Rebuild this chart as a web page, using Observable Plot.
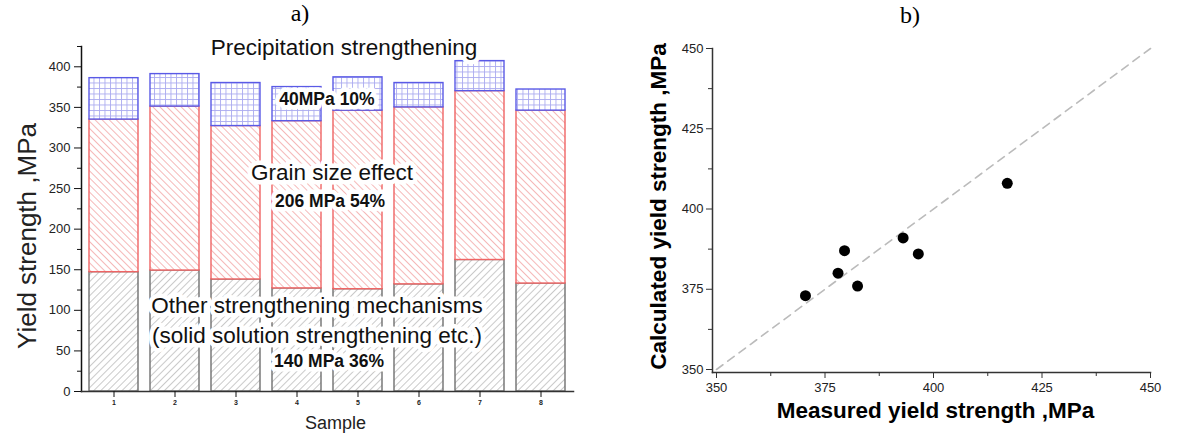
<!DOCTYPE html>
<html><head><meta charset="utf-8">
<script src="https://cdn.jsdelivr.net/npm/d3@7"></script>
<script src="https://cdn.jsdelivr.net/npm/@observablehq/plot@0.6"></script>
<style>
body{margin:0;background:#fff;}
#wrap{position:relative;width:1187px;height:434px;overflow:hidden;font-family:"Liberation Sans",Arial,sans-serif;}
.panel{position:absolute;top:0;}
.tag{position:absolute;font-family:"Liberation Serif","Times New Roman",serif;font-size:24px;line-height:24px;color:#000;transform:translateX(-50%);white-space:nowrap;}
</style></head>
<body>
<div id="wrap">
  <div id="left" class="panel" style="left:0"></div>
  <div id="right" class="panel" style="left:600px"></div>
  <div class="tag" style="left:300px;top:1px">a)</div>
  <div class="tag" style="left:910px;top:3px">b)</div>
</div>
<script>
// ---- data: panel a) stacked contributions ----
const samples = ["1", "2", "3", "4", "5", "6", "7", "8"];
const otherMech = [147, 149, 138, 127, 126, 132, 162, 133];
const grainSize = [188, 202, 189, 206, 220, 218, 208, 213];
const precipitation = [51, 40, 53, 42, 41, 30, 37, 26];
const seriesNames = ["Other strengthening mechanisms", "Grain size effect", "Precipitation strengthening"];
const yTicksA = [0, 50, 100, 150, 200, 250, 300, 350, 400];
const yMinorA = [25, 75, 125, 175, 225, 275, 325, 375, 425];
const labelsA = ["Precipitation strengthening", "40MPa 10%", "Grain size effect", "206 MPa 54%",
  "Other strengthening mechanisms", "(solid solution strengthening etc.)", "140 MPa 36%"];

// ---- data: panel b) measured vs calculated ----
const measured = [370.5, 378, 379.5, 382.5, 393, 396.5, 417];
const calculated = [373, 380, 387, 376, 391, 386, 408];
const ticksB = [350, 375, 400, 425, 450];
const minorB = [362.5, 387.5, 412.5, 437.5];
const identityLine = [350, 450];

// build stacked rows
const valuesBySeries = [otherMech, grainSize, precipitation];
const rows = [];
samples.forEach((s, i) => {
  let base = 0;
  seriesNames.forEach((name, k) => {
    const v = valuesBySeries[k][i];
    rows.push({sample: s, series: name, y1: base, y2: base + v});
    base += v;
  });
});

function patternDefs() {
  const d = d3.create("svg:defs");
  const g = d.append("pattern").attr("id", "hatchGray").attr("patternUnits", "userSpaceOnUse")
    .attr("width", 5).attr("height", 5).attr("patternTransform", "rotate(45)");
  g.append("rect").attr("width", 5).attr("height", 5).attr("fill", "#fff");
  g.append("line").attr("x1", 2.5).attr("x2", 2.5).attr("y1", 0).attr("y2", 5).attr("stroke", "#c4c4c4").attr("stroke-width", 0.9);
  const r = d.append("pattern").attr("id", "hatchRed").attr("patternUnits", "userSpaceOnUse")
    .attr("width", 5).attr("height", 5).attr("patternTransform", "rotate(-45)");
  r.append("rect").attr("width", 5).attr("height", 5).attr("fill", "#fff");
  r.append("line").attr("x1", 2.5).attr("x2", 2.5).attr("y1", 0).attr("y2", 5).attr("stroke", "#f4b0b0").attr("stroke-width", 0.9);
  const b = d.append("pattern").attr("id", "gridBlue").attr("patternUnits", "userSpaceOnUse")
    .attr("width", 5.5).attr("height", 5.5);
  b.append("rect").attr("width", 5.5).attr("height", 5.5).attr("fill", "#fff");
  b.append("path").attr("d", "M0,0.5H5.5M0.5,0V5.5").attr("stroke", "#aaaaf0").attr("stroke-width", 0.9).attr("fill", "none");
  return d.node();
}

const fills = ["url(#hatchGray)", "url(#hatchRed)", "url(#gridBlue)"];
const strokes = ["#707070", "#ef6464", "#5a5ae6"];

const textBase = {fill: "#111", stroke: "#fff", strokeWidth: 9, strokeLinejoin: "round", paintOrder: "stroke", fontFamily: "Liberation Sans, Arial, sans-serif"};

const left = Plot.plot({
  width: 600, height: 434,
  marginLeft: 81, marginRight: 27, marginTop: 46, marginBottom: 43,
  style: {fontFamily: "Liberation Sans, Arial, sans-serif", fontSize: "13px", color: "#222", background: "transparent", overflow: "visible"},
  x: {type: "band", domain: samples, paddingInner: 0.2, paddingOuter: 0.1, label: null},
  y: {domain: [0, 425], label: null},
  marks: [
    patternDefs,
    ...seriesNames.map((name, k) => Plot.barY(rows.filter(d => d.series === name), {
      x: "sample", y1: "y1", y2: "y2", fill: fills[k], stroke: strokes[k], strokeWidth: 1.4
    })),
    Plot.frame({anchor: "left", stroke: "#111", strokeWidth: 1.5}),
    Plot.frame({anchor: "bottom", stroke: "#333", strokeWidth: 1.5}),
    Plot.axisY(yTicksA, {tickSize: 7, tickPadding: 4, fontSize: 13, label: null, stroke: "#111"}),
    Plot.axisY(yMinorA, {tickSize: 4, text: null, label: null, stroke: "#111"}),
    Plot.axisX(samples, {tickSize: 6, tickPadding: 3, fontSize: 7, fontWeight: "bold", label: null, stroke: "#111"}),
    Plot.text(["Sample"], {frameAnchor: "bottom", dx: 8, dy: 37, fontSize: 18, fill: "#222"}),
    Plot.text(["Yield strength ,MPa"], {frameAnchor: "left", textAnchor: "middle", dx: -54, dy: 17, rotate: -90, fontSize: 26, fill: "#222"}),
    Plot.text([labelsA[0]], {...textBase, x: () => "4", y: () => 424, dx: 47, fontSize: 22.5}),
    Plot.text([labelsA[1]], {...textBase, x: () => "4", y: () => 360, dx: 30, fontSize: 17.5, fontWeight: "bold"}),
    Plot.text([labelsA[2]], {...textBase, x: () => "4", y: () => 270, dx: 35, fontSize: 22.5}),
    Plot.text([labelsA[3]], {...textBase, x: () => "4", y: () => 234, dx: 33, fontSize: 17.5, fontWeight: "bold"}),
    Plot.text([labelsA[4]], {...textBase, x: () => "4", y: () => 105, dx: 20, fontSize: 22.5}),
    Plot.text([labelsA[5]], {...textBase, x: () => "4", y: () => 69, dx: 20, fontSize: 22.5}),
    Plot.text([labelsA[6]], {...textBase, x: () => "4", y: () => 37, dx: 32, fontSize: 17.5, fontWeight: "bold"})
  ]
});
document.getElementById("left").appendChild(left);

const pts = measured.map((m, i) => ({measured: m, calculated: calculated[i]}));
const right = Plot.plot({
  width: 587, height: 434,
  marginLeft: 112, insetLeft: 4, marginRight: 37, marginTop: 48, marginBottom: 62, insetBottom: 3,
  style: {fontFamily: "Liberation Sans, Arial, sans-serif", fontSize: "13px", color: "#222", background: "transparent", overflow: "visible"},
  x: {domain: [350, 450], label: null},
  y: {domain: [350, 450], label: null},
  marks: [
    Plot.line(identityLine, {x: d => d, y: d => d, stroke: "#bbbbbb", strokeWidth: 1.6, strokeDasharray: "8,6"}),
    Plot.dot(pts, {x: "measured", y: "calculated", r: 5.5, fill: "#000"}),
    Plot.frame({anchor: "left", stroke: "#333", strokeWidth: 1.5}),
    Plot.frame({anchor: "bottom", stroke: "#333", strokeWidth: 1.5}),
    Plot.axisY(ticksB, {tickSize: 6, tickPadding: 3, fontSize: 13, label: null, stroke: "#333"}),
    Plot.axisY(minorB, {tickSize: 4, text: null, label: null, stroke: "#333"}),
    Plot.axisX(ticksB, {tickSize: 6, tickPadding: 4, fontSize: 13, label: null, stroke: "#333"}),
    Plot.axisX(minorB, {tickSize: 4, text: null, label: null, stroke: "#333"}),
    Plot.text(["Measured yield strength ,MPa"], {frameAnchor: "bottom", dx: 4, dy: 45, fontSize: 22.5, fontWeight: "bold", fill: "#000"}),
    Plot.text(["Calculated yield strength ,MPa"], {frameAnchor: "left", textAnchor: "middle", dx: -54, dy: -4, rotate: -90, fontSize: 22.5, fontWeight: "bold", fill: "#000"})
  ]
});
document.getElementById("right").appendChild(right);
</script>
</body></html>
